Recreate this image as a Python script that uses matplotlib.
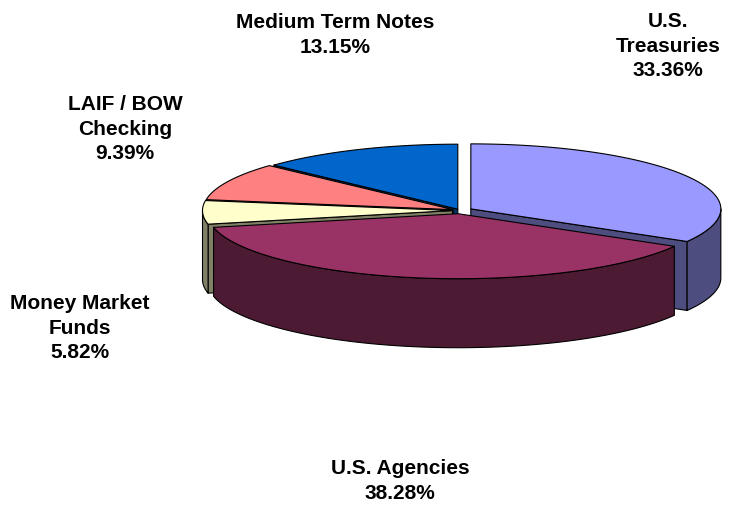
import numpy as np
import matplotlib.pyplot as plt
from matplotlib.patches import Polygon

# slices, clockwise from 12 o'clock
labels = ['U.S.\nTreasuries', 'U.S. Agencies', 'Money Market\nFunds',
          'LAIF / BOW\nChecking', 'Medium Term Notes']
shares = [33.36, 38.28, 5.82, 9.39, 13.15]
explode = [0.05, 0.05, 0.03, 0.03, 0.022]

top_colors = ['#9999FF', '#993366', '#FFFFCC', '#FF8080', '#0066CC']
side_colors = ['#4D4D80', '#4D1A33', '#808066', '#804040', '#003366']

# layout (pixel coords of the figure)
label_xy = [(668, 46), (400, 481), (80, 328), (125, 129), (335, 35)]
cx, cy = 460, 211.5      # pie centre
rx, ry = 250, 65         # ellipse semi axes
depth = 69

fig = plt.figure(figsize=(7.33, 5.06), dpi=100)
ax = fig.add_axes([0, 0, 1, 1])
ax.set_xlim(0, 733)
ax.set_ylim(506, 0)
ax.axis('off')


def arc(angs, off, dz=0.0):
    t = np.radians(angs)
    return np.column_stack([cx + off[0] + rx * np.cos(t),
                            cy + off[1] - ry * np.sin(t) + dz])


slices = []
start = 90.0
for i, s in enumerate(shares):
    end = start - s * 3.6
    mid = np.radians((start + end) / 2)
    off = (explode[i] * rx * np.cos(mid), -explode[i] * ry * np.sin(mid))
    slices.append((i, start, end, mid, off))
    start = end

kw = dict(edgecolor='black', linewidth=0.8, joinstyle='round')

# side walls, back to front
for i, st, en, mid, off in sorted(slices, key=lambda x: np.sin(x[3]), reverse=True):
    c0 = np.array([cx + off[0], cy + off[1]])
    # radial faces that face the viewer
    for phi, visible in ((st, np.cos(np.radians(st)) < 0), (en, np.cos(np.radians(en)) > 0)):
        if visible:
            p = arc([phi], off)[0]
            face = [c0, p, p + [0, depth], c0 + [0, depth]]
            ax.add_patch(Polygon(face, closed=True, facecolor=side_colors[i], **kw))
    # curved outer wall (front half only)
    for k in range(-2, 2):
        lo = max(en, -180 + 360 * k)
        hi = min(st, 360 * k)
        if hi > lo:
            angs = np.linspace(lo, hi, 80)
            topc = arc(angs, off)
            botc = arc(angs[::-1], off, depth)
            ax.add_patch(Polygon(np.vstack([topc, botc]), closed=True,
                                 facecolor=side_colors[i], **kw))

# top faces
for i, st, en, mid, off in slices:
    angs = np.linspace(en, st, 120)
    pts = np.vstack([[cx + off[0], cy + off[1]], arc(angs, off)])
    ax.add_patch(Polygon(pts, closed=True, facecolor=top_colors[i], **kw))

for i, (x, y) in enumerate(label_xy):
    ax.text(x, y, f'{labels[i]}\n{shares[i]:.2f}%', ha='center', va='center',
            multialignment='center', fontsize=15, fontweight='bold',
            family='Liberation Sans', linespacing=1.36)

fig.savefig('out.png', dpi=100)
